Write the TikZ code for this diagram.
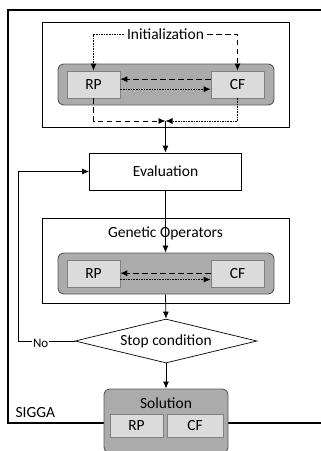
\documentclass[tikz,border=0pt]{standalone}
\usepackage{fontspec}
\setmainfont{Carlito}
\usetikzlibrary{positioning}
\usetikzlibrary{shapes.geometric}
\usetikzlibrary{arrows.meta}

\begin{document}
\begin{tikzpicture}[
  x=1pt, y=-1pt,
  font=\fontsize{15.5}{17}\selectfont,
  frame/.style={draw, line width=0.7pt, fill=white, inner sep=0pt},
  group/.style={draw=black!65, line width=0.9pt, fill=black!33, rounded corners=6pt, inner sep=0pt},
  part/.style={draw=black!50, line width=0.7pt, fill=black!14, inner sep=0pt, minimum width=53pt, minimum height=27pt},
  dashflow/.style={-{Latex[length=7pt,width=6pt]}, line width=0.8pt, dash pattern=on 5.5pt off 3.5pt},
  dotflow/.style={-{Latex[length=7pt,width=6pt]}, line width=0.8pt, dash pattern=on 1.6pt off 1pt},
  flow/.style={-{Latex[length=7pt,width=6pt]}, line width=0.8pt}
]
\useasboundingbox (0,0) rectangle (321,451);

% SIGGA frame
\draw[line width=1.2pt] (8,10) rectangle (340,423);
\node[anchor=west] (sigga) at (12,413) {SIGGA};

% initialization
\node[frame, minimum width=247pt, minimum height=105pt] (init) at (165.5,74.5) {};
\node (initlbl) at (165.5,34) {Initialization};
\node[group, minimum width=216pt, minimum height=41pt] (initgrp) at (166,84.5) {};
\node[part] (rp1) at (93.5,84.5) {RP};
\node[part] (cf1) at (237.5,84.5) {CF};
\coordinate (m1) at (165.5,121);

\draw[dotflow] (initlbl.west) -| (rp1.north);
\draw[dashflow] (initlbl.east) -| (cf1.north);
\draw[dashflow] ([yshift=5.3pt]cf1.west) -- ([yshift=5.3pt]rp1.east);
\draw[dotflow] ([yshift=-4.7pt]rp1.east) -- ([yshift=-4.7pt]cf1.west);
\draw[dashflow] (rp1.south) |- (m1);
\draw[dotflow] (cf1.south) |- (m1);

% evaluation
\node[frame, minimum width=152pt, minimum height=37pt] (eval) at (165.5,171.5) {Evaluation};
\draw[flow] (m1) -- (eval.north);

% genetic operators
\node[frame, minimum width=247pt, minimum height=85pt] (genop) at (165.5,260.5) {};
\node (genlbl) at (165.5,233) {Genetic Operators};
\node[group, minimum width=216pt, minimum height=41pt] (gengrp) at (166,273.5) {};
\node[part] (rp2) at (93.5,273.5) {RP};
\node[part] (cf2) at (237.5,273.5) {CF};

\draw[flow] (eval.south) -- (gengrp.north -| eval.south);
\draw[dashflow] ([yshift=0.3pt]cf2.west) -- ([yshift=0.3pt]rp2.east);
\draw[dotflow] ([yshift=-6pt]rp2.east) -- ([yshift=-6pt]cf2.west);

% stop condition
\node[draw, diamond, aspect=4, inner sep=0pt, line width=0.7pt, fill=white,
  minimum width=182pt, minimum height=44pt] (stop) at (166,341) {Stop condition};
\draw[flow] (gengrp.south -| eval.south) -- (stop.north);

\coordinate (loop) at (18,341);
\draw[flow] (stop.west) -- node[fill=white, inner sep=1pt, pos=0.6, yshift=-2pt,
  font=\fontsize{13}{14}\selectfont] (nolbl) {No} (loop) |- (eval.west);

% solution
\node[group, minimum width=124pt, minimum height=64pt] (sol) at (166,421) {};
\node (sollbl) at (166,403) {Solution};
\node[part, minimum height=23pt] (rp3) at (136.5,425.5) {RP};
\node[part, minimum width=56pt, minimum height=23pt] (cf3) at (195,425.5) {CF};
\draw[flow] (stop.south) -- (sol.north);

\end{tikzpicture}
\end{document}
